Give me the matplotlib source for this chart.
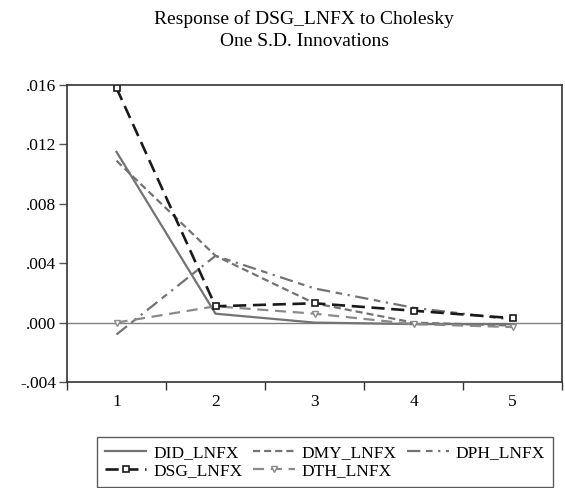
import numpy as np
import matplotlib
matplotlib.use("Agg")
import matplotlib.pyplot as plt
from matplotlib.lines import Line2D

plt.rcParams['font.family'] = ['Liberation Serif', 'DejaVu Serif']

# impulse responses
periods = [1, 2, 3, 4, 5]
did_lnfx = [0.0115, 0.0006, 0.0000, -0.0001, -0.0001]
dmy_lnfx = [0.0109, 0.0045, 0.0013, 0.0000, -0.0002]
dph_lnfx = [-0.0008, 0.0045, 0.0023, 0.0010, 0.0002]
dsg_lnfx = [0.0158, 0.0011, 0.0013, 0.0008, 0.0003]
dth_lnfx = [0.0000, 0.0011, 0.0006, -0.0001, -0.0003]

yticks = [-0.004, 0.000, 0.004, 0.008, 0.012, 0.016]
ytick_labels = ['-.004', '.000', '.004', '.008', '.012', '.016']

gray = '#737373'
lw = 1.6

fig = plt.figure(figsize=(5.65, 4.88), dpi=100)
ax = fig.add_axes([67 / 565, 1 - 382 / 488, 495 / 565, 297 / 488])

ax.axhline(0, color='#808080', lw=1.0, zorder=1)

styles = {
    'DID_LNFX': dict(color=gray, ls='-', lw=lw),
    'DMY_LNFX': dict(color=gray, ls=(0, (3.2, 1.8)), lw=lw),
    'DPH_LNFX': dict(color=gray, ls=(0, (6, 2.5, 3, 2.5, 1, 2.5)), lw=lw),
    'DSG_LNFX': dict(color='#1a1a1a', ls=(0, (5, 2.5)), lw=1.9, marker='s',
                     markersize=5, markerfacecolor='white', markeredgecolor='#1a1a1a',
                     markeredgewidth=1.2),
    'DTH_LNFX': dict(color='#8a8a8a', ls=(0, (5, 3)), lw=lw, marker='v',
                     markersize=5, markerfacecolor='white', markeredgecolor='#8a8a8a',
                     markeredgewidth=1.0),
}
series = {
    'DID_LNFX': did_lnfx,
    'DMY_LNFX': dmy_lnfx,
    'DPH_LNFX': dph_lnfx,
    'DTH_LNFX': dth_lnfx,
    'DSG_LNFX': dsg_lnfx,
}
for name, vals in series.items():
    ax.plot(periods, vals, zorder=3 if name == 'DSG_LNFX' else 2, **styles[name])

ax.set_xlim(0.5, 5.5)
ax.set_ylim(-0.004, 0.016)
ax.set_yticks(yticks)
ax.set_yticklabels(ytick_labels)
ax.set_xticks(np.arange(0.5, 6, 1.0))
ax.set_xticklabels([])
ax.set_xticks(periods, minor=True)
ax.set_xticklabels([str(p) for p in periods], minor=True)
ax.tick_params(axis='x', which='minor', length=0, pad=9, labelsize=12.5)
ax.tick_params(axis='x', which='major', length=6, width=1, color='#333333')
ax.tick_params(axis='y', length=6, width=1, color='#555555', labelsize=12.5, pad=2)
for s in ax.spines.values():
    s.set_color('#333333')
    s.set_linewidth(1.2)

fig.text(304 / 565, 1 - 19 / 488, 'Response of DSG_LNFX to Cholesky',
         ha='center', va='center', fontsize=14)
fig.text(304 / 565, 1 - 41 / 488, 'One S.D. Innovations',
         ha='center', va='center', fontsize=14)

order = ['DID_LNFX', 'DSG_LNFX', 'DMY_LNFX', 'DTH_LNFX', 'DPH_LNFX']
handles = []
for name in order:
    st = dict(styles[name])
    handles.append(Line2D([], [], **st))
leg = fig.legend(handles, order, loc='upper left',
                 bbox_to_anchor=(97 / 565, 1 - 437 / 488), ncol=3,
                 frameon=True, fancybox=False, edgecolor='#333333',
                 fontsize=12.5, handlelength=2.4, handletextpad=0.4,
                 columnspacing=0.6, labelspacing=0.1, borderpad=0.45,
                 borderaxespad=0, markerscale=0.9)
leg.get_frame().set_linewidth(1.0)

fig.savefig('out.png', dpi=100)
